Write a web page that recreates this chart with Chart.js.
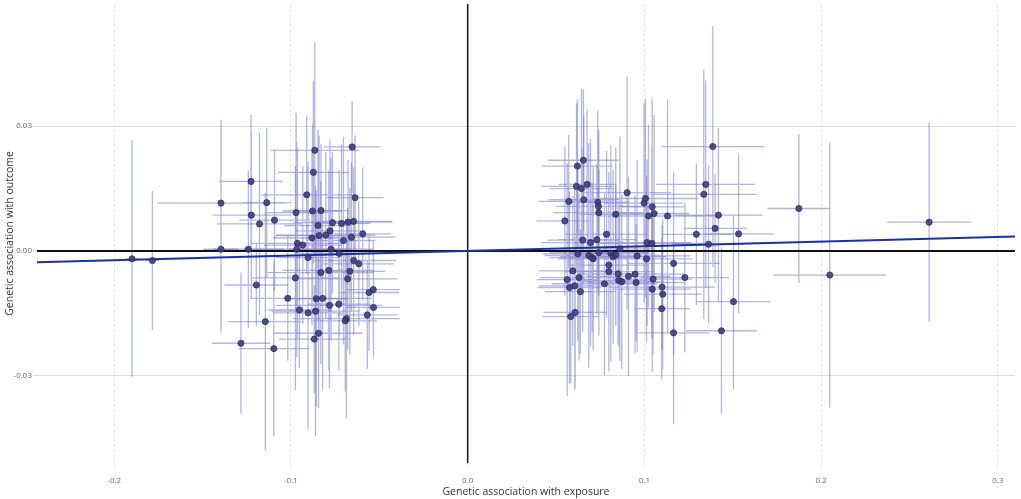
<!DOCTYPE html>
<html>
<head>
<meta charset="utf-8">
<script src="https://cdn.jsdelivr.net/npm/chart.js@4.4.1/dist/chart.umd.min.js"></script>
<style>
  html, body { margin: 0; padding: 0; background: #ffffff; }
  #wrap { width: 1021px; height: 499px; position: relative; }
</style>
</head>
<body>
<div id="wrap"><canvas id="c"></canvas></div>
<script>
// ---- data ----
const exposureBeta = [
  -0.1899,-0.1784,-0.1396,-0.1226,-0.1137,-0.1224,-0.1178,-0.1093,-0.0971,-0.0865,
  -0.0873,-0.0911,-0.0878,-0.0830,-0.0847,-0.0765,-0.0714,-0.0677,-0.0646,-0.0654,
  -0.0637,-0.0779,-0.0803,-0.0841,-0.0881,-0.0703,-0.0658,-0.0594,-0.0963,-0.0933,
  -0.1396,-0.1241,-0.0967,-0.0773,-0.0727,-0.0903,-0.0645,-0.0616,-0.0831,-0.0786,
  -0.0667,-0.0975,-0.0679,-0.1196,-0.0558,-0.0534,-0.1018,-0.0857,-0.0821,-0.0782,
  -0.0729,-0.0533,-0.0952,-0.0903,-0.0861,-0.0568,-0.0686,-0.0693,-0.1145,-0.0844,
  -0.0868,-0.1283,-0.1097,
  0.1387,0.0655,0.0621,0.0616,0.0644,0.0676,0.1347,0.1336,0.0902,0.0572,
  0.0657,0.0736,0.0740,0.1006,0.0998,0.1044,0.0742,0.0838,0.1023,0.1055,
  0.1131,0.1419,0.0550,0.1400,0.0786,0.1294,0.1533,0.0651,0.0695,0.0731,
  0.1015,0.1042,0.1363,0.0623,0.0685,0.0710,0.0704,0.0742,0.0810,0.0823,
  0.0838,0.0861,0.0959,0.1012,0.1165,0.0799,0.0595,0.0799,0.0630,0.0563,
  0.0851,0.0910,0.0947,0.1229,0.0855,0.0872,0.1049,0.0953,0.0774,0.0606,
  0.0576,0.0638,0.1044,0.1100,0.1104,0.1504,0.1098,0.0608,0.0583,0.1165,
  0.1436,0.1874,0.2611,0.2049
];
const outcomeBeta = [
  -0.0019,-0.0023,0.0115,0.0167,0.0116,0.0086,0.0065,0.0074,0.0092,0.0242,
  0.0189,0.0135,0.0096,0.0097,0.0061,0.0068,0.0066,0.0069,0.0071,0.0250,
  0.0128,0.0048,0.0038,0.0037,0.0031,0.0025,0.0033,0.0041,0.0018,0.0014,
  0.0004,0.0004,0.0004,0.0004,-0.0006,-0.0016,-0.0023,-0.0031,-0.0052,-0.0047,
  -0.0049,-0.0065,-0.0067,-0.0082,-0.0100,-0.0093,-0.0114,-0.0115,-0.0114,-0.0131,
  -0.0128,-0.0136,-0.0142,-0.0149,-0.0145,-0.0154,-0.0163,-0.0168,-0.0170,-0.0198,
  -0.0212,-0.0222,-0.0235,
  0.0251,0.0218,0.0204,0.0155,0.0150,0.0160,0.0160,0.0136,0.0140,0.0119,
  0.0123,0.0117,0.0107,0.0126,0.0115,0.0106,0.0092,0.0088,0.0084,0.0090,
  0.0084,0.0086,0.0072,0.0054,0.0040,0.0040,0.0041,0.0026,0.0020,0.0027,
  0.0020,0.0018,0.0016,-0.0007,-0.0011,-0.0019,-0.0016,-0.0004,-0.0006,-0.0014,
  -0.0010,0.0005,-0.0012,-0.0019,-0.0030,-0.0034,-0.0048,-0.0050,-0.0064,-0.0069,
  -0.0055,-0.0061,-0.0056,-0.0064,-0.0071,-0.0074,-0.0068,-0.0076,-0.0079,-0.0084,
  -0.0088,-0.0098,-0.0092,-0.0087,-0.0104,-0.0122,-0.0139,-0.0148,-0.0158,-0.0197,
  -0.0192,0.0102,0.0069,-0.0058
];
const exposureSE = [
  0.004,0.004,0.036,0.018,0.014,0.022,0.024,0.020,0.018,0.025,
  0.020,0.026,0.017,0.015,0.019,0.022,0.016,0.025,0.022,0.016,
  0.016,0.020,0.028,0.025,0.022,0.018,0.025,0.016,0.026,0.022,
  0.010,0.020,0.030,0.024,0.022,0.018,0.024,0.020,0.030,0.026,
  0.020,0.025,0.028,0.018,0.017,0.015,0.021,0.018,0.028,0.030,
  0.018,0.015,0.018,0.020,0.025,0.017,0.030,0.018,0.021,0.025,
  0.020,0.0165,0.020,
  0.029,0.020,0.020,0.020,0.018,0.016,0.028,0.030,0.025,0.017,
  0.020,0.018,0.024,0.030,0.022,0.018,0.026,0.020,0.028,0.020,
  0.030,0.025,0.016,0.018,0.024,0.020,0.020,0.020,0.028,0.022,
  0.025,0.030,0.020,0.020,0.025,0.020,0.024,0.028,0.022,0.030,
  0.025,0.020,0.030,0.026,0.026,0.022,0.019,0.025,0.022,0.017,
  0.022,0.024,0.028,0.025,0.020,0.024,0.022,0.028,0.030,0.020,
  0.018,0.020,0.022,0.030,0.022,0.021,0.016,0.018,0.016,0.020,
  0.020,0.0178,0.0238,0.0317
];
const outcomeSE = [
  0.0285,0.0167,0.020,0.016,0.018,0.020,0.022,0.017,0.024,0.026,
  0.022,0.019,0.021,0.016,0.023,0.017,0.019,0.015,0.013,0.011,
  0.015,0.022,0.020,0.024,0.021,0.025,0.018,0.016,0.023,0.019,
  0.020,0.019,0.026,0.022,0.020,0.023,0.018,0.015,0.022,0.024,
  0.020,0.027,0.017,0.010,0.014,0.012,0.015,0.026,0.022,0.020,
  0.016,0.012,0.014,0.028,0.030,0.013,0.024,0.017,0.031,0.018,
  0.013,0.017,0.021,
  0.029,0.017,0.016,0.020,0.024,0.018,0.025,0.030,0.028,0.016,
  0.020,0.022,0.018,0.024,0.024,0.026,0.020,0.016,0.022,0.0237,
  0.028,0.021,0.018,0.013,0.020,0.017,0.019,0.022,0.025,0.018,
  0.020,0.023,0.019,0.021,0.027,0.022,0.018,0.020,0.026,0.021,
  0.017,0.027,0.023,0.020,0.022,0.019,0.018,0.024,0.020,0.028,
  0.017,0.024,0.019,0.018,0.016,0.021,0.018,0.014,0.022,0.025,
  0.023,0.015,0.020,0.015,0.018,0.021,0.017,0.018,0.016,0.022,
  0.020,0.0179,0.024,0.0318
];
const ivwSlope = 0.0111;
const xRange = [-0.2437, 0.3097];
const yRange = [-0.0510, 0.0594];
const xTickValues = [-0.2, -0.1, 0.0, 0.1, 0.2, 0.3];
const xTickLabels = ['-0.2', '-0.1', '0.0', '0.1', '0.2', '0.3'];
const yTickValues = [-0.03, 0.00, 0.03];
const yTickLabels = ['-0.03', '0.00', '0.03'];
const xTitle = 'Genetic association with exposure';
const yTitle = 'Genetic association with outcome';

// ---- build datasets from the data ----
const points = exposureBeta.map((bx, i) => ({ x: bx, y: outcomeBeta[i] }));
const barsGrey = [], barsBlue = [];
const gap = { x: null, y: null };
exposureBeta.forEach((bx, i) => {
  const by = outcomeBeta[i], sx = exposureSE[i], sy = outcomeSE[i];
  const target = (i % 2 === 0) ? barsGrey : barsBlue;
  target.push({ x: bx - sx, y: by }, { x: bx + sx, y: by }, gap,
              { x: bx, y: by - sy }, { x: bx, y: by + sy }, gap);
});
const lineDs = (data, color, width, order) => ({
  type: 'scatter', data, showLine: true, borderColor: color, borderWidth: width,
  pointRadius: 0, pointHoverRadius: 0, spanGaps: false, fill: false, order
});

const ctx = document.getElementById('c');
new Chart(ctx, {
  type: 'scatter',
  data: {
    datasets: [
      lineDs(barsGrey, 'rgba(105,115,150,0.5)', 1.3, 5),
      lineDs(barsBlue, 'rgba(95,95,235,0.47)', 1.3, 4),
      lineDs([{ x: xRange[0], y: 0 }, { x: xRange[1], y: 0 }], '#111111', 2, 3),
      lineDs([{ x: 0, y: yRange[0] }, { x: 0, y: yRange[1] }], '#111111', 1.5, 3),
      lineDs([{ x: xRange[0], y: ivwSlope * xRange[0] }, { x: xRange[1], y: ivwSlope * xRange[1] }], '#1b2fa8', 2, 2),
      {
        type: 'scatter', data: points, order: 0,
        pointRadius: 3.1, pointHoverRadius: 3.1,
        backgroundColor: 'rgba(58,58,122,0.88)', borderColor: 'rgba(40,40,100,0.9)', borderWidth: 0.8
      }
    ]
  },
  options: {
    responsive: true,
    maintainAspectRatio: false,
    animation: false,
    events: [],
    layout: { padding: { top: 2, right: 6, left: 0, bottom: 0 } },
    plugins: { legend: { display: false }, tooltip: { enabled: false } },
    scales: {
      x: {
        type: 'linear', min: xRange[0], max: xRange[1],
        afterBuildTicks: s => { s.ticks = xTickValues.map(v => ({ value: v })); },
        afterFit: s => { s.height = 36; s.paddingLeft = 0; s.paddingRight = 0; },
        ticks: {
          callback: (v, i) => xTickLabels[i], autoSkip: false, maxRotation: 0,
          font: { family: 'Open Sans', size: 8 }, color: '#666', padding: 9
        },
        grid: { color: '#e2e2e2', lineWidth: 1, tickLength: 4, drawTicks: true },
        border: { display: false, dash: [3, 2] },
        title: { display: true, text: xTitle, font: { family: 'Open Sans', size: 10.5 }, color: '#333', padding: { top: 0, bottom: 1 } }
      },
      y: {
        type: 'linear', min: yRange[0], max: yRange[1],
        afterBuildTicks: s => { s.ticks = yTickValues.map(v => ({ value: v })); },
        afterFit: s => { s.width = 37; s.paddingTop = 0; s.paddingBottom = 0; },
        ticks: {
          callback: (v, i) => yTickLabels[i], autoSkip: false,
          font: { family: 'Open Sans', size: 8 }, color: '#666', padding: 1
        },
        grid: { color: '#dcdcdc', lineWidth: 1, tickLength: 4, drawTicks: true },
        border: { display: false },
        title: { display: true, text: yTitle, font: { family: 'Open Sans', size: 10.5 }, color: '#333', padding: { top: 4, bottom: 2 } }
      }
    }
  }
});
</script>
</body>
</html>
